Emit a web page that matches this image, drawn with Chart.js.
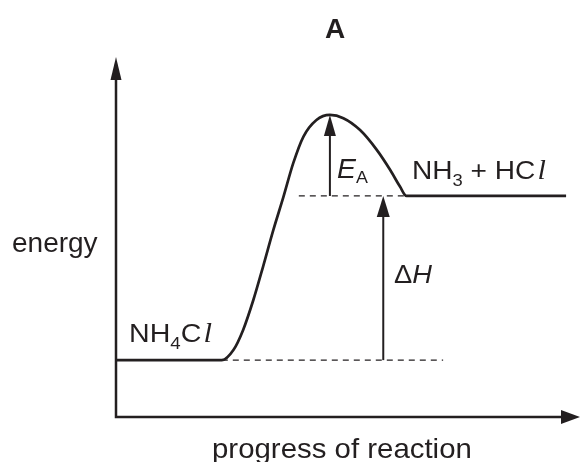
<!DOCTYPE html>
<html>
<head>
<meta charset="utf-8">
<script src="https://cdn.jsdelivr.net/npm/chart.js@4/dist/chart.umd.min.js"></script>
<style>
  body { margin: 0; background: #fff; }
</style>
</head>
<body>
<canvas id="energyChart" width="580" height="462"></canvas>
<script>
// Reaction profile (x: progress 0-100, y: energy 0-100)
const progress = [0, 22.8, 25.3, 27.4, 29.6, 31.7, 33.9, 36.1, 38.2, 40.4, 43.2, 46.1, 49.0, 52.6, 56.2, 59.1, 61.2, 62.6, 97.0];
const energy = [15.8, 15.8, 18.6, 24.2, 32.5, 41.8, 51.9, 61.2, 70.5, 77.9, 82.5, 83.9, 83.0, 79.7, 74.2, 68.6, 64.0, 61.4, 61.4];

// Levels and guide lines
const reactantLevel = 15.8;
const productLevel = 61.4;
const peakLevel = 83.9;
const lowDashX = [22.8, 70.5];
const highDashX = [39.4, 62.6];
const eaArrowX = 46.1;
const dhArrowX = 57.6;

const ink = '#231f20';
const ctx = document.getElementById('energyChart').getContext('2d');

const curvePoints = progress.map((x, i) => ({ x: x, y: energy[i] }));

function line(points, extra) {
    return Object.assign({
        data: points,
        showLine: true,
        borderColor: ink,
        borderWidth: 1.3,
        pointRadius: 0,
        fill: false
    }, extra);
}

// draws text made of runs (subscripts, italics) with a horizontal stretch
function drawRuns(c, x, y, runs, sx) {
    c.save();
    c.translate(x, y);
    c.scale(sx, 1);
    c.fillStyle = ink;
    c.textBaseline = 'alphabetic';
    let cx = 0;
    runs.forEach(r => {
        c.font = r.font;
        c.fillText(r.t, cx, r.dy || 0);
        cx += c.measureText(r.t).width + (r.gap || 0);
    });
    c.restore();
}

function arrowHead(c, tipX, tipY, dir, len, half) {
    // dir: 'up' or 'right'
    c.beginPath();
    if (dir === 'up') {
        c.moveTo(tipX, tipY);
        c.lineTo(tipX - half, tipY + len);
        c.lineTo(tipX + half, tipY + len);
    } else {
        c.moveTo(tipX, tipY);
        c.lineTo(tipX - len, tipY - half);
        c.lineTo(tipX - len, tipY + half);
    }
    c.closePath();
    c.fillStyle = ink;
    c.fill();
}

const decorations = {
    id: 'decorations',
    afterDatasetsDraw(chart) {
        const c = chart.ctx;
        const xs = chart.scales.x;
        const ys = chart.scales.y;

        // axes
        const x0 = xs.getPixelForValue(0), y0 = ys.getPixelForValue(0);
        const xEnd = xs.getPixelForValue(100), yEnd = ys.getPixelForValue(100);
        c.save();
        c.strokeStyle = ink;
        c.lineWidth = 2.5;
        c.beginPath();
        c.moveTo(x0, yEnd + 10);
        c.lineTo(x0, y0);
        c.lineTo(xEnd - 10, y0);
        c.stroke();
        arrowHead(c, x0, yEnd, 'up', 23, 5.5);
        arrowHead(c, xEnd, y0, 'right', 19, 7);

        // arrow heads for E_A and delta H
        arrowHead(c, xs.getPixelForValue(eaArrowX), ys.getPixelForValue(peakLevel), 'up', 21, 6);
        arrowHead(c, xs.getPixelForValue(dhArrowX), ys.getPixelForValue(productLevel), 'up', 21, 6.5);
        c.restore();

        const sans = '"Liberation Sans", Arial, sans-serif';
        const serif = '"Liberation Serif", serif';
        const big = '26px ' + sans;
        const sub = '17px ' + sans;
        const ell = 'italic 28px ' + serif;

        drawRuns(c, 325, 38, [{ t: 'A', font: 'bold 28px ' + sans }], 1);
        drawRuns(c, 12, 252, [{ t: 'energy', font: '28px ' + sans }], 1);
        drawRuns(c, 212, 458, [{ t: 'progress of reaction', font: '28px ' + sans }], 1.05);

        drawRuns(c, 129, 342, [
            { t: 'NH', font: big },
            { t: '4', font: sub, dy: 7 },
            { t: 'C', font: big, gap: 2 },
            { t: 'l', font: ell }
        ], 1.1);
        drawRuns(c, 412, 179, [
            { t: 'NH', font: big },
            { t: '3', font: sub, dy: 7 },
            { t: ' + HC', font: big, gap: 2 },
            { t: 'l', font: ell }
        ], 1.08);
        drawRuns(c, 337, 178, [
            { t: 'E', font: 'italic 27px ' + sans },
            { t: 'A', font: sub, dy: 5 }
        ], 1.05);
        drawRuns(c, 394, 283, [
            { t: '\u0394', font: big },
            { t: 'H', font: 'italic ' + big }
        ], 1.05);
    }
};

new Chart(ctx, {
    type: 'scatter',
    data: {
        datasets: [
            line(curvePoints, { borderWidth: 2.7, cubicInterpolationMode: 'monotone' }),
            line([{ x: lowDashX[0], y: reactantLevel }, { x: lowDashX[1], y: reactantLevel }], { borderDash: [6, 5] }),
            line([{ x: highDashX[0], y: productLevel }, { x: highDashX[1], y: productLevel }], { borderDash: [6, 5] }),
            line([{ x: eaArrowX, y: productLevel }, { x: eaArrowX, y: peakLevel - 5 }], { borderWidth: 2 }),
            line([{ x: dhArrowX, y: reactantLevel }, { x: dhArrowX, y: productLevel - 5 }], { borderWidth: 2 })
        ]
    },
    options: {
        responsive: false,
        animation: false,
        layout: { padding: { left: 116, right: 0, top: 57, bottom: 45 } },
        plugins: { legend: { display: false }, tooltip: { enabled: false } },
        scales: {
            x: { type: 'linear', display: false, min: 0, max: 100 },
            y: { type: 'linear', display: false, min: 0, max: 100 }
        }
    },
    plugins: [decorations]
});
</script>
</body>
</html>
